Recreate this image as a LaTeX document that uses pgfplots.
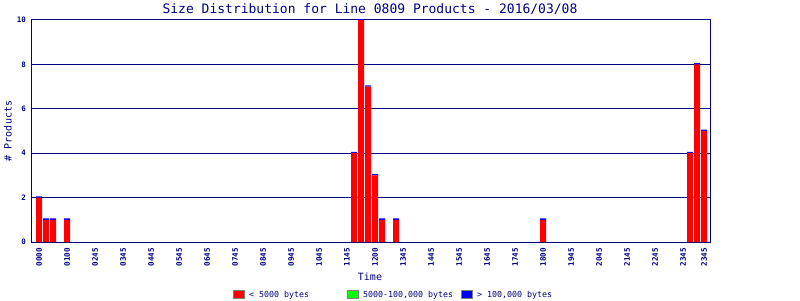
\documentclass[border=0pt]{standalone}
\usepackage{pgfplots}
\pgfplotsset{compat=1.18}
\usepackage{fontspec}
\setmainfont{DejaVu Sans Mono}
\definecolor{navy}{RGB}{0,0,128}
\definecolor{pred}{RGB}{255,0,0}
\definecolor{pgreen}{RGB}{0,255,0}
\definecolor{pblue}{RGB}{0,0,255}
\begin{document}
\begin{tikzpicture}
\path[use as bounding box] (0,0) rectangle (800pt,300pt);
\begin{axis}[
  at={(32pt,58pt)}, anchor=south west,
  scale only axis, width=678pt, height=222pt,
  ybar stacked, bar width=6pt,
  xmin=-1, xmax=95.85, ymin=0, ymax=10,
  axis line style={navy, line width=1pt},
  ymajorgrids, grid style={navy, line width=1pt},
  major tick length=0pt,
  /pgf/number format/assume math mode=true,
  ytick={0,2,4,6,8,10},
  xtick={0,4,8,12,16,20,24,28,32,36,40,44,48,52,56,60,64,68,72,76,80,84,88,92,95},
  xticklabels={0000,0100,0245,0345,0445,0545,0645,0745,0845,0945,1045,1145,1200,1345,1445,1545,1645,1745,1800,1945,2045,2145,2245,2345,2345},
  xticklabel style={rotate=90, anchor=east, inner sep=0pt, xshift=-6pt, text=navy, font=\bfseries\fontsize{7.6}{7.6}\selectfont},
  yticklabel style={anchor=east, inner sep=0pt, xshift=-6pt, text=navy, font=\bfseries\fontsize{7.5}{7.5}\selectfont},
  every axis title shift=0pt,
  title={Size Distribution for Line 0809 Products - 2016/03/08},
  title style={at={(axis description cs:0.4985,1.0495)}, anchor=center, inner sep=0pt, text=navy, font=\fontsize{13}{13}\selectfont},
  xlabel={Time},
  xlabel style={at={(axis description cs:0.4985,-0.1577)}, anchor=center, inner sep=0pt, text=navy, font=\fontsize{10}{10}\selectfont},
  ylabel={\# Products},
  ylabel style={at={(axis description cs:-0.0354,0.5)}, anchor=center, inner sep=0pt, text=navy, font=\fontsize{10}{10}\selectfont},
  legend columns=3,
  legend style={at={(axis description cs:0.2965,-0.2387)}, anchor=west, draw=none, fill=none, inner sep=0pt, column sep=0pt, nodes={inner sep=0pt}, font=\fontsize{8.3}{8.3}\selectfont, text=navy},
]
\addplot[fill=pred, draw=none,
  legend image code/.code={\draw[draw=gray, fill=pred, line width=1pt] (0.5pt,-4pt) rectangle (11.5pt,4pt);}]
  coordinates {(0,2) (1,1) (2,1) (4,1) (45,4) (46,10) (47,7) (48,3) (49,1) (51,1) (72,1) (93,4) (94,8) (95,5)};
\addlegendentry{\makebox[102pt][l]{\hspace{4pt}< 5000 bytes}}
\addplot[fill=pgreen, draw=none,
  legend image code/.code={\draw[draw=gray, fill=pgreen, line width=1pt] (0.5pt,-4pt) rectangle (11.5pt,4pt);}]
  coordinates {(0,0) (1,0) (2,0) (4,0) (45,0) (46,0) (47,0) (48,0) (49,0) (51,0) (72,0) (93,0) (94,0) (95,0)};
\addlegendentry{\makebox[102pt][l]{\hspace{4pt}5000-100,000 bytes}}
\addplot[fill=pblue, draw=none,
  legend image code/.code={\draw[draw=gray, fill=pblue, line width=1pt] (0.5pt,-4pt) rectangle (11.5pt,4pt);}]
  coordinates {(0,0.06) (1,0.06) (2,0.06) (4,0.06) (45,0.06) (46,0.06) (47,0.06) (48,0.06) (49,0.06) (51,0.06) (72,0.06) (93,0.06) (94,0.06) (95,0.06)};
\addlegendentry{\makebox[102pt][l]{\hspace{4pt}> 100,000 bytes}}
\end{axis}
\end{tikzpicture}
\end{document}
